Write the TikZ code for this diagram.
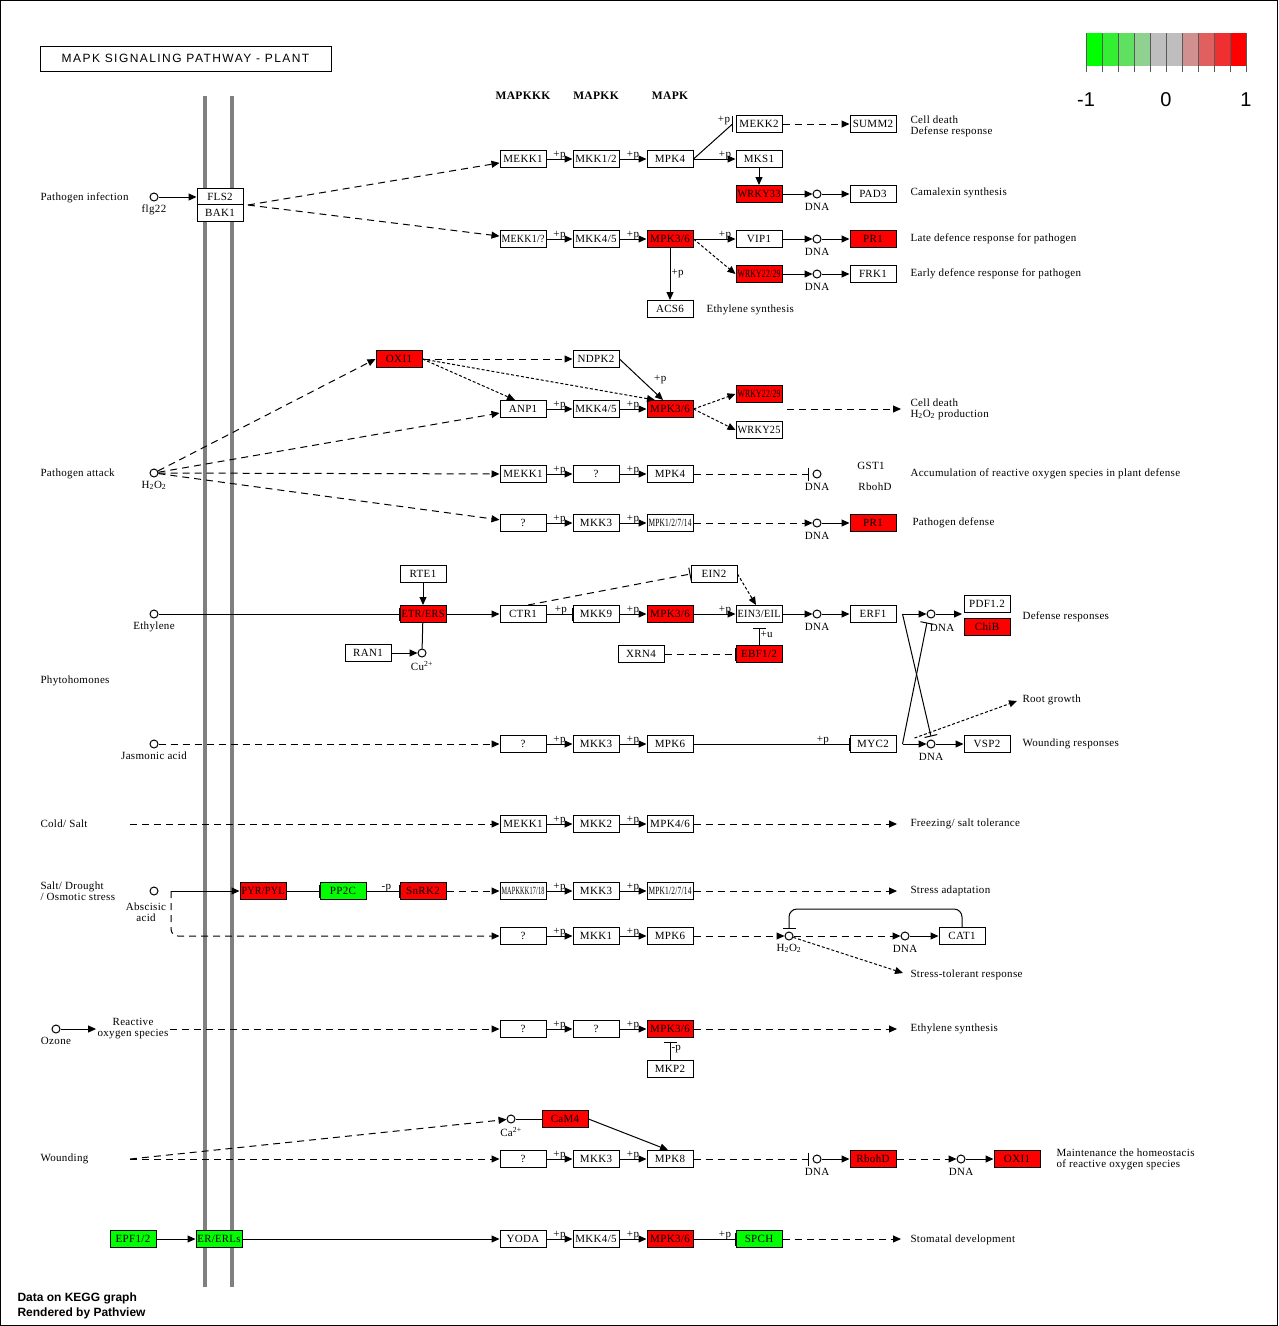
\documentclass[tikz,border=0pt]{standalone}
\usepackage{fontspec}
\setmainfont{Liberation Serif}[LetterSpace=3]
\setsansfont{Liberation Sans}
\usepackage{graphicx}
\usetikzlibrary{arrows.meta}

\definecolor{kred}{HTML}{FF0000}
\definecolor{kgreen}{HTML}{00FF00}
\definecolor{memb}{HTML}{808080}

\newcommand\lfont{\fontsize{11}{11}\selectfont}
\newcommand\hfont{\bfseries\fontsize{11.5}{12}\selectfont}
\newsavebox\gbox
% squeeze long gene names into the box
\newcommand\gl[1]{\sbox\gbox{#1}\ifdim\wd\gbox>43pt\resizebox{43pt}{\height}{\usebox\gbox}\else\usebox\gbox\fi}

\begin{document}
\begin{tikzpicture}[x=1pt,y=-1pt,line width=1pt,
  gene/.style={draw, fill=white, minimum width=46pt, minimum height=17pt, inner sep=0pt, font=\lfont},
  genered/.style={gene, fill=kred},
  genegreen/.style={gene, fill=kgreen},
  cpd/.style={circle, draw, fill=white, minimum size=8pt, inner sep=0pt},
  lab/.style={font=\lfont, inner sep=1pt},
  dna/.style={cpd, label={[lab, label distance=3pt]below:DNA}},
  act/.style={-{Triangle[length=8pt,width=7pt]}},
  inh/.style={-{Bar[width=13pt]}},
  dsh/.style={dash pattern=on 7pt off 5pt},
  dts/.style={dash pattern=on 3pt off 2pt},
  txt/.style={font=\lfont, anchor=west, inner sep=0pt, align=left},
  plabel/.style={font=\lfont, inner sep=0pt, above, yshift=-1pt}]
\useasboundingbox (0,0) rectangle (1278,1326);
\draw (0.5,0.5) rectangle (1277.5,1325.5);

% membrane
\draw[memb, line width=4pt] (205,96) -- (205,1287);
\draw[memb, line width=4pt] (232,96) -- (232,1287);

% title and legend
\node[draw, minimum width=291pt, minimum height=25pt, inner sep=0pt, font=\sffamily\fontsize{12}{12}\selectfont\addfontfeature{LetterSpace=12}] (title) at (185.5,58.5) {MAPK SIGNALING PATHWAY - PLANT};
\foreach \c [count=\i from 0] in {00FF00,33EE33,60E060,90D090,BEBEBE,BEBEBE,D09090,E06060,EF3030,FF0000}{
  \definecolor{tmp}{HTML}{\c}
  \fill[tmp] (1086+16*\i,33) rectangle ++(16,33);
}
\foreach \i in {0,...,10}
  \draw[black!65] (1086+16*\i,33) -- (1086+16*\i,72);
\node[font=\sffamily\fontsize{20}{20}\selectfont] (lmin) at (1086,100) {-1};
\node[font=\sffamily\fontsize{20}{20}\selectfont] (lmid) at (1166,100) {0};
\node[font=\sffamily\fontsize{20}{20}\selectfont] (lmax) at (1246,100) {1};

\node[font=\hfont] (hkkk) at (523,96) {MAPKKK};
\node[font=\hfont] (hkk) at (596,96) {MAPKK};
\node[font=\hfont] (hk) at (670,96) {MAPK};

% pathogen infection
\node[txt] (tinf) at (40,198) {Pathogen infection};
\node[cpd, label={[lab, label distance=2pt]below:flg22}] (flg) at (154,197) {};
\node[gene] (fls2) at (220,197) {\gl{FLS2}};
\node[gene] (bak1) at (220,213) {\gl{BAK1}};
\coordinate (fb) at (248,205);
\node[gene] (mekk1a) at (523,159) {\gl{MEKK1}};
\node[gene] (mkk12) at (596,159) {\gl{MKK1/2}};
\node[gene] (mpk4a) at (670,159) {\gl{MPK4}};
\node[gene] (mekk2) at (759,124) {\gl{MEKK2}};
\node[gene] (summ2) at (873,124) {\gl{SUMM2}};
\node[gene] (mks1) at (759,159) {\gl{MKS1}};
\node[genered] (wrky33) at (759,194) {\gl{WRKY33}};
\node[dna] (dna1) at (817,194) {};
\node[gene] (pad3) at (873,194) {\gl{PAD3}};
\node[gene] (mekk1q) at (523,239) {\gl{MEKK1/?}};
\node[gene] (mkk45a) at (596,239) {\gl{MKK4/5}};
\node[genered] (mpk36a) at (670,239) {\gl{MPK3/6}};
\node[gene] (vip1) at (759,239) {\gl{VIP1}};
\node[genered] (wrky2229a) at (759,274) {\gl{WRKY22/29}};
\node[gene] (acs6) at (670,309) {\gl{ACS6}};
\node[dna] (dna2) at (817,239) {};
\node[dna] (dna3) at (817,274) {};
\node[genered] (pr1a) at (873,239) {\gl{PR1}};
\node[gene] (frk1) at (873,274) {\gl{FRK1}};
\node[txt] (tcd1) at (910,126) {Cell death\\Defense response};
\node[txt] (tcam) at (910,193) {Camalexin synthesis};
\node[txt] (tlate) at (910,239) {Late defence response for pathogen};
\node[txt] (tearly) at (910,274) {Early defence response for pathogen};
\node[txt] (teth1) at (706,310) {Ethylene synthesis};
\node[lab] (pmekk2) at (724,121) {+p};

\draw[act] (flg) -- (fls2);
\draw[dsh,act] (fb) -- (mekk1a);
\draw[dsh,act] (fb) -- (mekk1q);
\draw[act] (mekk1a) -- node[plabel]{+p} (mkk12);
\draw[act] (mkk12) -- node[plabel]{+p} (mpk4a);
\draw[act] (mpk4a) -- node[plabel,pos=0.75]{+p} (mks1);
\draw (mpk4a.east) -- ([xshift=-3pt]mekk2.west);
\draw ([xshift=-3pt,yshift=-1pt]mekk2.north west) -- ([xshift=-3pt,yshift=1pt]mekk2.south west);
\draw[dsh,act] (mekk2) -- (summ2);
\draw[act] (mks1) -- (wrky33);
\draw[act] (wrky33) -- (dna1);
\draw[act] (dna1) -- (pad3);
\draw[act] (mekk1q) -- node[plabel]{+p} (mkk45a);
\draw[act] (mkk45a) -- node[plabel]{+p} (mpk36a);
\draw[act] (mpk36a) -- node[plabel,pos=0.75]{+p} (vip1);
\draw[dts,act] (mpk36a.east) -- (wrky2229a.west);
\draw[act] (mpk36a) -- node[lab,right]{+p} (acs6);
\draw[act] (vip1) -- (dna2);
\draw[act] (dna2) -- (pr1a);
\draw[act] (wrky2229a) -- (dna3);
\draw[act] (dna3) -- (frk1);

% pathogen attack
\node[txt] (tatt) at (40,474) {Pathogen attack};
\node[cpd, label={[lab, label distance=2pt]below:H\textsubscript{2}O\textsubscript{2}}] (h2o2a) at (154,473) {};
\node[genered] (oxi1a) at (399,359) {\gl{OXI1}};
\node[gene] (ndpk2) at (596,359) {\gl{NDPK2}};
\node[gene] (anp1) at (523,409) {\gl{ANP1}};
\node[gene] (mkk45b) at (596,409) {\gl{MKK4/5}};
\node[genered] (mpk36b) at (670,409) {\gl{MPK3/6}};
\node[genered] (wrky2229b) at (759,394) {\gl{WRKY22/29}};
\node[gene] (wrky25) at (759,430) {\gl{WRKY25}};
\coordinate (cd0) at (787,409);
\coordinate (cd1) at (901,409);
\node[txt] (tcd2) at (910,409) {Cell death\\H\textsubscript{2}O\textsubscript{2} production};
\node[gene] (mekk1b) at (523,474) {\gl{MEKK1}};
\node[gene] (qb) at (596,474) {?};
\node[gene] (mpk4b) at (670,474) {\gl{MPK4}};
\node[dna] (dna4) at (817,474) {};
\node[lab] (gst1) at (871,466) {GST1};
\node[lab] (rbohd1) at (875,487) {RbohD};
\node[txt] (tacc) at (910,474) {Accumulation of reactive oxygen species in plant defense};
\node[gene] (qc) at (523,523) {?};
\node[gene] (mkk3a) at (596,523) {\gl{MKK3}};
\node[gene] (mpk127a) at (670,523) {\gl{MPK1/2/7/14}};
\node[dna] (dna5) at (817,523) {};
\node[genered] (pr1b) at (873,523) {\gl{PR1}};
\node[txt] (tpd) at (912,523) {Pathogen defense};

\draw[dsh,act] (h2o2a) -- (oxi1a.west);
\draw[dsh,act] (h2o2a) -- (anp1);
\draw[dsh,act] (h2o2a) -- (mekk1b);
\draw[dsh,act] (h2o2a) -- (qc);
\draw[dsh,act] (oxi1a) -- (ndpk2);
\draw[dts,act] (oxi1a.east) -- ([xshift=-8pt]anp1.north);
\draw[dts,act] (oxi1a.east) -- ([xshift=-15pt]mpk36b.north);
\draw[act] (ndpk2.east) -- node[lab,xshift=19pt]{+p} ([xshift=-7pt]mpk36b.north);
\draw[act] (anp1) -- node[plabel]{+p} (mkk45b);
\draw[act] (mkk45b) -- node[plabel]{+p} (mpk36b);
\draw[dts,act] (mpk36b.east) -- (wrky2229b.west);
\draw[dts,act] (mpk36b.east) -- (wrky25.west);
\draw[dsh,act] (cd0) -- (cd1);
\draw[act] (mekk1b) -- node[plabel]{+p} (qb);
\draw[act] (qb) -- node[plabel]{+p} (mpk4b);
\draw[dsh,inh,shorten >=4pt] (mpk4b) -- (dna4);
\draw[act] (qc) -- node[plabel]{+p} (mkk3a);
\draw[act] (mkk3a) -- node[plabel]{+p} (mpk127a);
\draw[dsh,act] (mpk127a) -- (dna5);
\draw[act] (dna5) -- (pr1b);

% ethylene
\node[cpd, label={[lab, label distance=2pt]below:Ethylene}] (eth) at (154,614) {};
\node[gene] (rte1) at (423,574) {\gl{RTE1}};
\node[genered] (etr) at (423,614) {\gl{ETR/ERS}};
\node[cpd, label={[lab, label distance=2pt]below:Cu\textsuperscript{2+}}] (cu) at (422,653) {};
\node[gene] (ran1) at (368,653) {\gl{RAN1}};
\node[gene] (ctr1) at (523,614) {\gl{CTR1}};
\node[gene] (mkk9) at (596,614) {\gl{MKK9}};
\node[genered] (mpk36c) at (670,614) {\gl{MPK3/6}};
\node[gene] (ein2) at (714,574) {\gl{EIN2}};
\node[gene] (ein3) at (759,614) {\gl{EIN3/EIL}};
\node[genered] (ebf12) at (759,654) {\gl{EBF1/2}};
\node[gene] (xrn4) at (641,654) {\gl{XRN4}};
\node[dna] (dna6) at (817,614) {};
\node[gene] (erf1) at (873,614) {\gl{ERF1}};
\node[cpd] (dna7) at (931,614) {};
\node[lab] (dnalab7) at (942,628) {DNA};
\node[gene] (pdf12) at (987,604) {\gl{PDF1.2}};
\node[genered] (chib) at (987,627) {\gl{ChiB}};
\coordinate (defc) at (962,614);
\node[txt] (tdef) at (1022,617) {Defense responses};
\node[txt] (tphy) at (40,681) {Phytohomones};

\draw[inh] (eth) -- (etr);
\draw[act] (rte1) -- (etr);
\draw (etr) -- (cu);
\draw[act] (ran1) -- (cu);
\draw[act] (etr) -- (ctr1);
\draw[inh] (ctr1) -- node[plabel,pos=0.55]{+p} (mkk9);
\draw[act] (mkk9) -- node[plabel]{+p} (mpk36c);
\draw[act] (mpk36c) -- node[plabel,pos=0.75]{+p} (ein3);
\draw[dsh,inh] ([xshift=5pt]ctr1.north) -- (ein2.west);
\draw[dts,act] (ein2.east) -- ([xshift=-3pt]ein3.north);
\draw[inh,shorten >=5pt] (ebf12) -- node[lab,right]{+u} (ein3);
\draw[dsh,inh] (xrn4) -- (ebf12);
\draw[act] (ein3) -- (dna6);
\draw[act] (dna6) -- (erf1);
\draw[act] ([xshift=6pt]erf1.east) -- (dna7);
\draw[act] (dna7) -- (defc);

% jasmonic acid
\node[cpd, label={[lab, label distance=2pt]below:Jasmonic acid}] (ja) at (154,744) {};
\node[gene] (qd) at (523,744) {?};
\node[gene] (mkk3b) at (596,744) {\gl{MKK3}};
\node[gene] (mpk6a) at (670,744) {\gl{MPK6}};
\node[gene] (myc2) at (873,744) {\gl{MYC2}};
\node[dna] (dna9) at (931,744) {};
\node[gene] (vsp2) at (987,744) {\gl{VSP2}};
\coordinate (rg) at (1017,701);
\node[txt] (troot) at (1022,700) {Root growth};
\node[txt] (twr) at (1022,744) {Wounding responses};

\draw[dsh,act] (ja) -- (qd);
\draw[act] (qd) -- node[plabel]{+p} (mkk3b);
\draw[act] (mkk3b) -- node[plabel]{+p} (mpk6a);
\draw[inh] (mpk6a) -- node[plabel,pos=0.83]{+p} (myc2);
\draw[act] ([xshift=6pt]myc2.east) -- (dna9);
\draw[act] (dna9) -- (vsp2);
\draw[dts,act] ([xshift=18pt,yshift=6pt]myc2.east) -- (rg);
\draw[inh] ([xshift=6pt]erf1.east) -- ([yshift=3pt]dna9.north);
\draw[inh] ([xshift=6pt]myc2.east) -- ([xshift=-4pt,yshift=-4pt]dna7.south);

% cold / salt
\node[txt] (tcold) at (40,824) {Cold/ Salt};
\coordinate (cs0) at (130,824);
\node[gene] (mekk1c) at (523,824) {\gl{MEKK1}};
\node[gene] (mkk2) at (596,824) {\gl{MKK2}};
\node[gene] (mpk46) at (670,824) {\gl{MPK4/6}};
\coordinate (cs1) at (897,824);
\node[txt] (tfrz) at (910,824) {Freezing/ salt tolerance};

\draw[dsh,act] (cs0) -- (mekk1c);
\draw[act] (mekk1c) -- node[plabel]{+p} (mkk2);
\draw[act] (mkk2) -- node[plabel]{+p} (mpk46);
\draw[dsh,act] (mpk46) -- (cs1);

% salt / drought
\node[txt] (tsalt) at (40,891) {Salt/ Drought\\/ Osmotic stress};
\node[cpd] (aba) at (154,891) {};
\node[lab, align=center] (taba) at (146,912) {Abscisic\\acid};
\coordinate (aba0) at (171,891);
\node[genered] (pyr) at (263,891) {\gl{PYR/PYL}};
\node[genegreen] (pp2c) at (343,891) {\gl{PP2C}};
\node[genered] (snrk2) at (423,891) {\gl{SnRK2}};
\node[gene] (mapkkk17) at (523,891) {\gl{MAPKKK17/18}};
\node[gene] (mkk3c) at (596,891) {\gl{MKK3}};
\node[gene] (mpk127b) at (670,891) {\gl{MPK1/2/7/14}};
\coordinate (sa) at (897,891);
\node[txt] (tsa) at (910,891) {Stress adaptation};
\node[gene] (qe) at (523,936) {?};
\node[gene] (mkk1) at (596,936) {\gl{MKK1}};
\node[gene] (mpk6b) at (670,936) {\gl{MPK6}};
\node[cpd, label={[lab, label distance=2pt]below:H\textsubscript{2}O\textsubscript{2}}] (h2o2b) at (789,936) {};
\node[dna] (dna10) at (905,936) {};
\node[gene] (cat1) at (962,936) {\gl{CAT1}};
\coordinate (str) at (903,973);
\node[txt] (tstr) at (910,975) {Stress-tolerant response};

\draw[act] (aba0) -- (pyr);
\draw[dsh,act,rounded corners=7pt] (aba0) |- (qe);
\draw[inh] (pyr) -- (pp2c);
\draw[inh] (pp2c) -- node[plabel,pos=0.6]{-p} (snrk2);
\draw[dsh,act] (snrk2) -- (mapkkk17);
\draw[act] (mapkkk17) -- node[plabel]{+p} (mkk3c);
\draw[act] (mkk3c) -- node[plabel]{+p} (mpk127b);
\draw[dsh,act] (mpk127b) -- (sa);
\draw[act] (qe) -- node[plabel]{+p} (mkk1);
\draw[act] (mkk1) -- node[plabel]{+p} (mpk6b);
\draw[dsh,act] (mpk6b) -- (h2o2b);
\draw[dsh,act] (h2o2b) -- (dna10);
\draw[act] (dna10) -- (cat1);
\draw[inh,rounded corners=8pt] (cat1.north) -- ++(0,-18) -| ([yshift=3pt]h2o2b.north);
\draw[dts,act] (h2o2b) -- (str);

% ozone
\node[cpd, label={[lab, label distance=2pt]below:Ozone}] (o3) at (56,1029) {};
\node[lab, align=center] (ros) at (133,1029) {Reactive\\oxygen species};
\node[gene] (qf) at (523,1029) {?};
\node[gene] (qg) at (596,1029) {?};
\node[genered] (mpk36d) at (670,1029) {\gl{MPK3/6}};
\node[gene] (mkp2) at (670,1069) {\gl{MKP2}};
\coordinate (es) at (897,1029);
\node[txt] (teth2) at (910,1029) {Ethylene synthesis};

\draw[act] (o3) -- (ros);
\draw[dsh,act] (ros) -- (qf);
\draw[act] (qf) -- node[plabel]{+p} (qg);
\draw[act] (qg) -- node[plabel]{+p} (mpk36d);
\draw[dsh,act] (mpk36d) -- (es);
\draw[inh,shorten >=4pt] (mkp2) -- node[lab,right]{-p} (mpk36d);

% wounding
\node[txt] (twd) at (40,1159) {Wounding};
\coordinate (wd0) at (130,1159);
\node[cpd, label={[lab, label distance=2pt]below:Ca\textsuperscript{2+}}] (ca) at (511,1119) {};
\node[genered] (cam4) at (565,1119) {\gl{CaM4}};
\node[gene] (qh) at (523,1159) {?};
\node[gene] (mkk3d) at (596,1159) {\gl{MKK3}};
\node[gene] (mpk8) at (670,1159) {\gl{MPK8}};
\node[dna] (dna11) at (817,1159) {};
\node[genered] (rbohd) at (873,1159) {\gl{RbohD}};
\node[dna] (dna12) at (961,1159) {};
\node[genered] (oxi1b) at (1017,1159) {\gl{OXI1}};
\node[txt] (tmain) at (1056,1159) {Maintenance the homeostacis\\of reactive oxygen species};

\draw[dsh,act] (wd0) -- (ca);
\draw[dsh,act] (wd0) -- (qh);
\draw (ca) -- (cam4);
\draw[act] (cam4.east) -- ([xshift=-2pt]mpk8.north);
\draw[act] (qh) -- node[plabel]{+p} (mkk3d);
\draw[act] (mkk3d) -- node[plabel]{+p} (mpk8);
\draw[dsh,inh,shorten >=4pt] (mpk8) -- (dna11);
\draw[act] (dna11) -- (rbohd);
\draw[dsh,act] (rbohd) -- (dna12);
\draw[act] (dna12) -- (oxi1b);

% stomata
\node[genegreen] (epf) at (133,1239) {\gl{EPF1/2}};
\node[genegreen] (erl) at (219,1239) {\gl{ER/ERLs}};
\node[gene] (yoda) at (523,1239) {\gl{YODA}};
\node[gene] (mkk45c) at (596,1239) {\gl{MKK4/5}};
\node[genered] (mpk36e) at (670,1239) {\gl{MPK3/6}};
\node[genegreen] (spch) at (759,1239) {\gl{SPCH}};
\coordinate (sd) at (901,1239);
\node[txt] (tsto) at (910,1240) {Stomatal development};

\draw[act] (epf) -- (erl);
\draw[act] (erl) -- (yoda);
\draw[act] (yoda) -- node[plabel]{+p} (mkk45c);
\draw[act] (mkk45c) -- node[plabel]{+p} (mpk36e);
\draw[inh] (mpk36e) -- node[plabel,pos=0.75]{+p} (spch);
\draw[dsh,act] (spch) -- (sd);

\node[anchor=west, align=left, inner sep=0pt, font=\sffamily\bfseries\fontsize{12}{15}\selectfont] (foot) at (17,1306) {Data on KEGG graph\\Rendered by Pathview};
\end{tikzpicture}
\end{document}
